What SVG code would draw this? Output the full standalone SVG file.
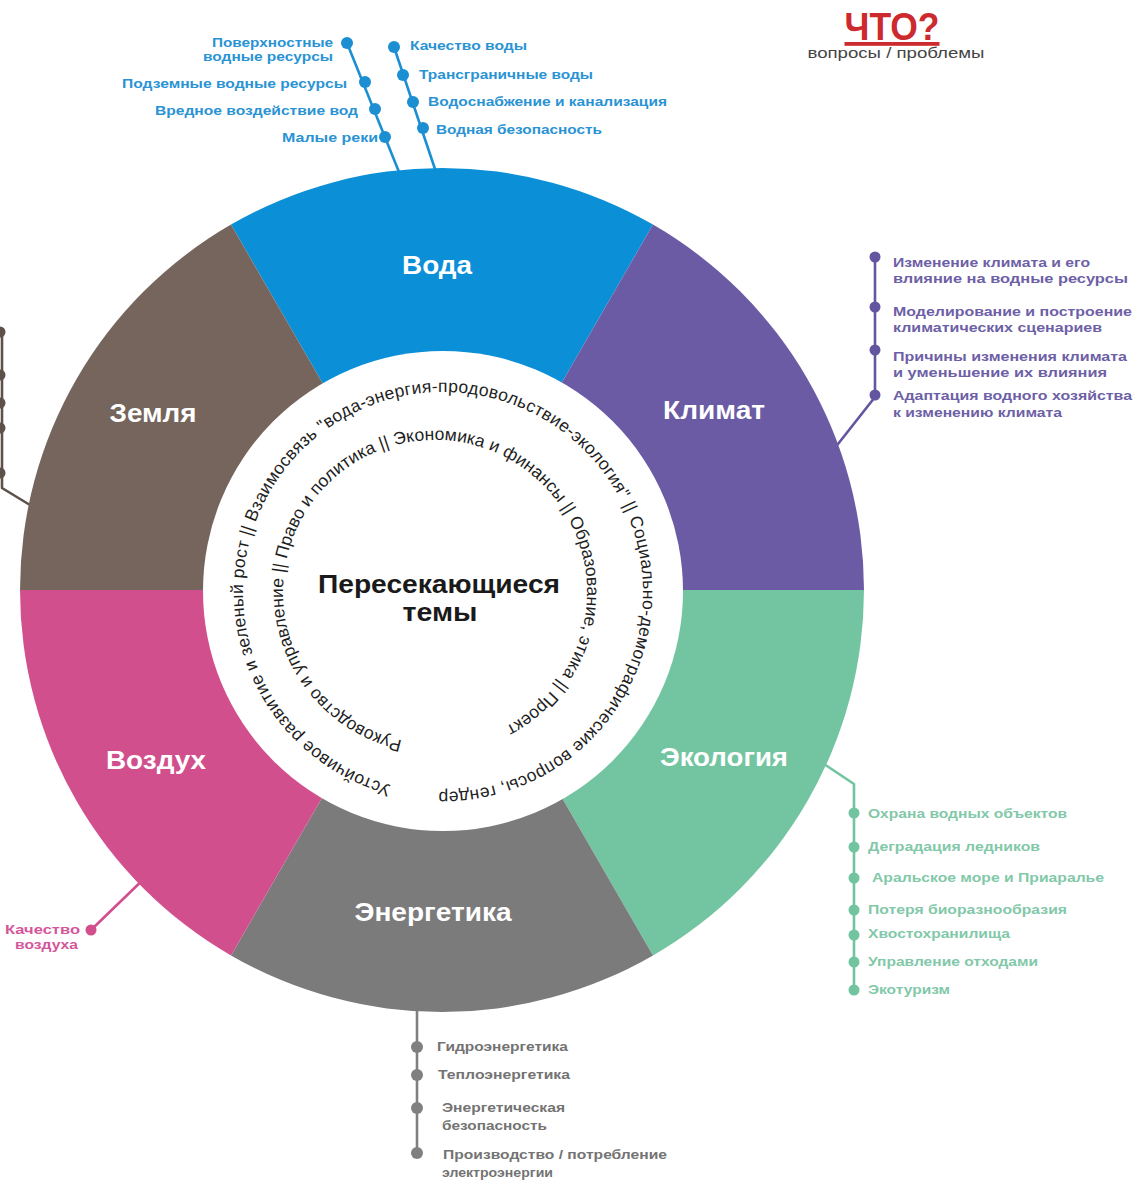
<svg xmlns="http://www.w3.org/2000/svg" width="1133" height="1181" viewBox="0 0 1133 1181">
<style>
.seg{font-family:"Liberation Sans",Arial,sans-serif;font-weight:700;font-size:25px;fill:#ffffff}
.ring{font-family:"Liberation Sans",Arial,sans-serif;font-size:17.5px;fill:#1e1e1e}
.ctr{font-family:"Liberation Sans",Arial,sans-serif;font-weight:700;font-size:25px;fill:#1a1a1a}
.lbl{font-family:"Liberation Sans",Arial,sans-serif;font-weight:700;font-size:12.5px}
.wl{font-size:13.5px}
.cw{fill:#2a93d4}.cc{fill:#6d60a6}.ce{fill:#82c8a9}.cg{fill:#737373}.ca{fill:#d4569a}
.ln{fill:none;stroke-width:2.6;stroke-linecap:round;stroke-linejoin:round}
</style>
<defs>
<path id="outerRing" d="M391.2,785.2 A200,200 0 0 1 301.6,450.6 A200,200 0 0 1 636.2,540.2 A200,200 0 0 1 391.2,785.2"/>
<path id="innerRing" d="M402.1,740.4 A152,152 0 0 1 322.9,489.3 A152,152 0 0 1 580.0,546.3 A152,152 0 0 1 402.1,740.4"/>
</defs>
<rect width="1133" height="1181" fill="#ffffff"/>

<g id="connectors">
  <path class="ln" stroke="#1b8fd2" d="M347,43 L399,172"/>
  <path class="ln" stroke="#1b8fd2" d="M394,47 L436,172"/>
  <path class="ln" stroke="#6455a0" d="M875,257 L875,397 L838,444"/>
  <path class="ln" stroke="#5e504a" d="M2,332 L2,488 L30,505"/>
  <path class="ln" stroke="#72c4a0" d="M824,764 L854,784 L854,990"/>
  <path class="ln" stroke="#808080" d="M417,1005 L417,1153"/>
  <path class="ln" stroke="#d24f8e" d="M91,930 L150,873"/>
</g>

<g id="voda">
  <path d="M442,590 L231,224.54 A422,422 0 0 1 653,224.54 Z" fill="#0b8fd7"/>
  <text class="seg" x="437" y="274" text-anchor="middle" textLength="70" lengthAdjust="spacingAndGlyphs">Вода</text>
</g>
<g id="klimat">
  <path d="M442,590 L653,224.54 A422,422 0 0 1 864,590 Z" fill="#6a5ba4"/>
  <text class="seg" x="714" y="419" text-anchor="middle" textLength="102" lengthAdjust="spacingAndGlyphs">Климат</text>
</g>
<g id="ekologiya">
  <path d="M442,590 L864,590 A422,422 0 0 1 653,955.46 Z" fill="#73c5a1"/>
  <text class="seg" x="724" y="766" text-anchor="middle" textLength="128" lengthAdjust="spacingAndGlyphs">Экология</text>
</g>
<g id="energetika">
  <path d="M442,590 L653,955.46 A422,422 0 0 1 231,955.46 Z" fill="#7b7b7b"/>
  <text class="seg" x="433" y="921" text-anchor="middle" textLength="157" lengthAdjust="spacingAndGlyphs">Энергетика</text>
</g>
<g id="vozduh">
  <path d="M442,590 L231,955.46 A422,422 0 0 1 20,590 Z" fill="#d24f8e"/>
  <text class="seg" x="156" y="769" text-anchor="middle" textLength="100" lengthAdjust="spacingAndGlyphs">Воздух</text>
</g>
<g id="zemlya">
  <path d="M442,590 L20,590 A422,422 0 0 1 231,224.54 Z" fill="#75655d"/>
  <text class="seg" x="153" y="422" text-anchor="middle" textLength="87" lengthAdjust="spacingAndGlyphs">Земля</text>
</g>

<g id="cross-cutting">
  <circle cx="443" cy="591" r="240" fill="#ffffff"/>
  <text class="ring"><textPath href="#outerRing" textLength="1208" lengthAdjust="spacing">Устойчивое развитие и зеленый рост || Взаимосвязь "вода-энергия-продовольствие-экология" || Социально-демографические вопросы, гендер</textPath></text>
  <text class="ring"><textPath href="#innerRing" textLength="848" lengthAdjust="spacing">Руководство и управление || Право и политика || Экономика и финансы || Образование, этика || Проект</textPath></text>
  <text class="ctr" x="439" y="593" text-anchor="middle" textLength="242" lengthAdjust="spacingAndGlyphs">Пересекающиеся</text>
  <text class="ctr" x="440" y="621" text-anchor="middle" textLength="75" lengthAdjust="spacingAndGlyphs">темы</text>
</g>

<g id="water-topics" fill="#1b8fd2">
  <circle cx="347" cy="43" r="6"/><circle cx="365" cy="82" r="6"/><circle cx="375" cy="109" r="6"/><circle cx="385" cy="137" r="6"/>
  <circle cx="394" cy="47" r="6"/><circle cx="403" cy="75" r="6"/><circle cx="413" cy="102" r="6"/><circle cx="423" cy="128" r="6"/>
  <g class="lbl wl cw" text-anchor="end">
    <text x="333" y="47" textLength="121" lengthAdjust="spacingAndGlyphs">Поверхностные</text>
    <text x="333" y="61" textLength="130" lengthAdjust="spacingAndGlyphs">водные ресурсы</text>
    <text x="347" y="88" textLength="225" lengthAdjust="spacingAndGlyphs">Подземные водные ресурсы</text>
    <text x="358" y="115" textLength="203" lengthAdjust="spacingAndGlyphs">Вредное воздействие вод</text>
    <text x="378" y="142" textLength="96" lengthAdjust="spacingAndGlyphs">Малые реки</text>
  </g>
  <g class="lbl wl cw">
    <text x="410" y="50" textLength="117" lengthAdjust="spacingAndGlyphs">Качество воды</text>
    <text x="419" y="79" textLength="174" lengthAdjust="spacingAndGlyphs">Трансграничные воды</text>
    <text x="428" y="106" textLength="239" lengthAdjust="spacingAndGlyphs">Водоснабжение и канализация</text>
    <text x="436" y="134" textLength="166" lengthAdjust="spacingAndGlyphs">Водная безопасность</text>
  </g>
</g>

<g id="climate-topics" fill="#6455a0">
  <circle cx="875" cy="257" r="5.5"/><circle cx="875" cy="307" r="5.5"/><circle cx="875" cy="350" r="5.5"/><circle cx="875" cy="395" r="5.5"/>
  <g class="lbl cc">
    <text x="893" y="267" textLength="197" lengthAdjust="spacingAndGlyphs">Изменение климата и его</text>
    <text x="893" y="283" textLength="235" lengthAdjust="spacingAndGlyphs">влияние на водные ресурсы</text>
    <text x="893" y="316" textLength="239" lengthAdjust="spacingAndGlyphs">Моделирование и построение</text>
    <text x="893" y="332" textLength="209" lengthAdjust="spacingAndGlyphs">климатических сценариев</text>
    <text x="893" y="361" textLength="234" lengthAdjust="spacingAndGlyphs">Причины изменения климата</text>
    <text x="893" y="377" textLength="214" lengthAdjust="spacingAndGlyphs">и уменьшение их влияния</text>
    <text x="893" y="400" textLength="239" lengthAdjust="spacingAndGlyphs">Адаптация водного хозяйства</text>
    <text x="893" y="417" textLength="169" lengthAdjust="spacingAndGlyphs">к изменению климата</text>
  </g>
</g>

<g id="land-topics" fill="#5e504a">
  <circle cx="0" cy="332" r="5.5"/><circle cx="0" cy="375" r="5.5"/><circle cx="0" cy="403" r="5.5"/><circle cx="0" cy="428" r="5.5"/><circle cx="0" cy="473" r="5.5"/>
</g>

<g id="ecology-topics" fill="#72c4a0">
  <circle cx="854" cy="813" r="5.5"/><circle cx="854" cy="847" r="5.5"/><circle cx="854" cy="878" r="5.5"/><circle cx="854" cy="910" r="5.5"/><circle cx="854" cy="935" r="5.5"/><circle cx="854" cy="962" r="5.5"/><circle cx="854" cy="990" r="5.5"/>
  <g class="lbl ce">
    <text x="868" y="818" textLength="199" lengthAdjust="spacingAndGlyphs">Охрана водных объектов</text>
    <text x="868" y="851" textLength="172" lengthAdjust="spacingAndGlyphs">Деградация ледников</text>
    <text x="872" y="882" textLength="232" lengthAdjust="spacingAndGlyphs">Аральское море и Приаралье</text>
    <text x="868" y="914" textLength="199" lengthAdjust="spacingAndGlyphs">Потеря биоразнообразия</text>
    <text x="868" y="938" textLength="142" lengthAdjust="spacingAndGlyphs">Хвостохранилища</text>
    <text x="868" y="966" textLength="170" lengthAdjust="spacingAndGlyphs">Управление отходами</text>
    <text x="868" y="994" textLength="82" lengthAdjust="spacingAndGlyphs">Экотуризм</text>
  </g>
</g>

<g id="energy-topics" fill="#808080">
  <circle cx="417" cy="1047" r="6"/><circle cx="417" cy="1075" r="6"/><circle cx="417" cy="1108" r="6"/><circle cx="417" cy="1153" r="6"/>
  <g class="lbl cg">
    <text x="437" y="1051" textLength="131" lengthAdjust="spacingAndGlyphs">Гидроэнергетика</text>
    <text x="438" y="1079" textLength="132" lengthAdjust="spacingAndGlyphs">Теплоэнергетика</text>
    <text x="442" y="1112" textLength="123" lengthAdjust="spacingAndGlyphs">Энергетическая</text>
    <text x="442" y="1130" textLength="105" lengthAdjust="spacingAndGlyphs">безопасность</text>
    <text x="443" y="1159" textLength="224" lengthAdjust="spacingAndGlyphs">Производство / потребление</text>
    <text x="442" y="1177" textLength="111" lengthAdjust="spacingAndGlyphs">электроэнергии</text>
  </g>
</g>

<g id="air-topics" fill="#d24f8e">
  <circle cx="91" cy="930" r="5.5"/>
  <g class="lbl ca" text-anchor="end">
    <text x="80" y="934" textLength="75" lengthAdjust="spacingAndGlyphs">Качество</text>
    <text x="78" y="949" textLength="63" lengthAdjust="spacingAndGlyphs">воздуха</text>
  </g>
</g>

<g id="header">
  <text x="892" y="40" text-anchor="middle" font-family="Liberation Sans, Arial, sans-serif" font-weight="700" font-size="38" fill="#cc2a2f" text-decoration="underline" textLength="95" lengthAdjust="spacingAndGlyphs">ЧТО?</text>
  <text x="896" y="58" text-anchor="middle" font-family="Liberation Sans, Arial, sans-serif" font-size="15" fill="#444444" textLength="177" lengthAdjust="spacingAndGlyphs">вопросы / проблемы</text>
</g>
</svg>
